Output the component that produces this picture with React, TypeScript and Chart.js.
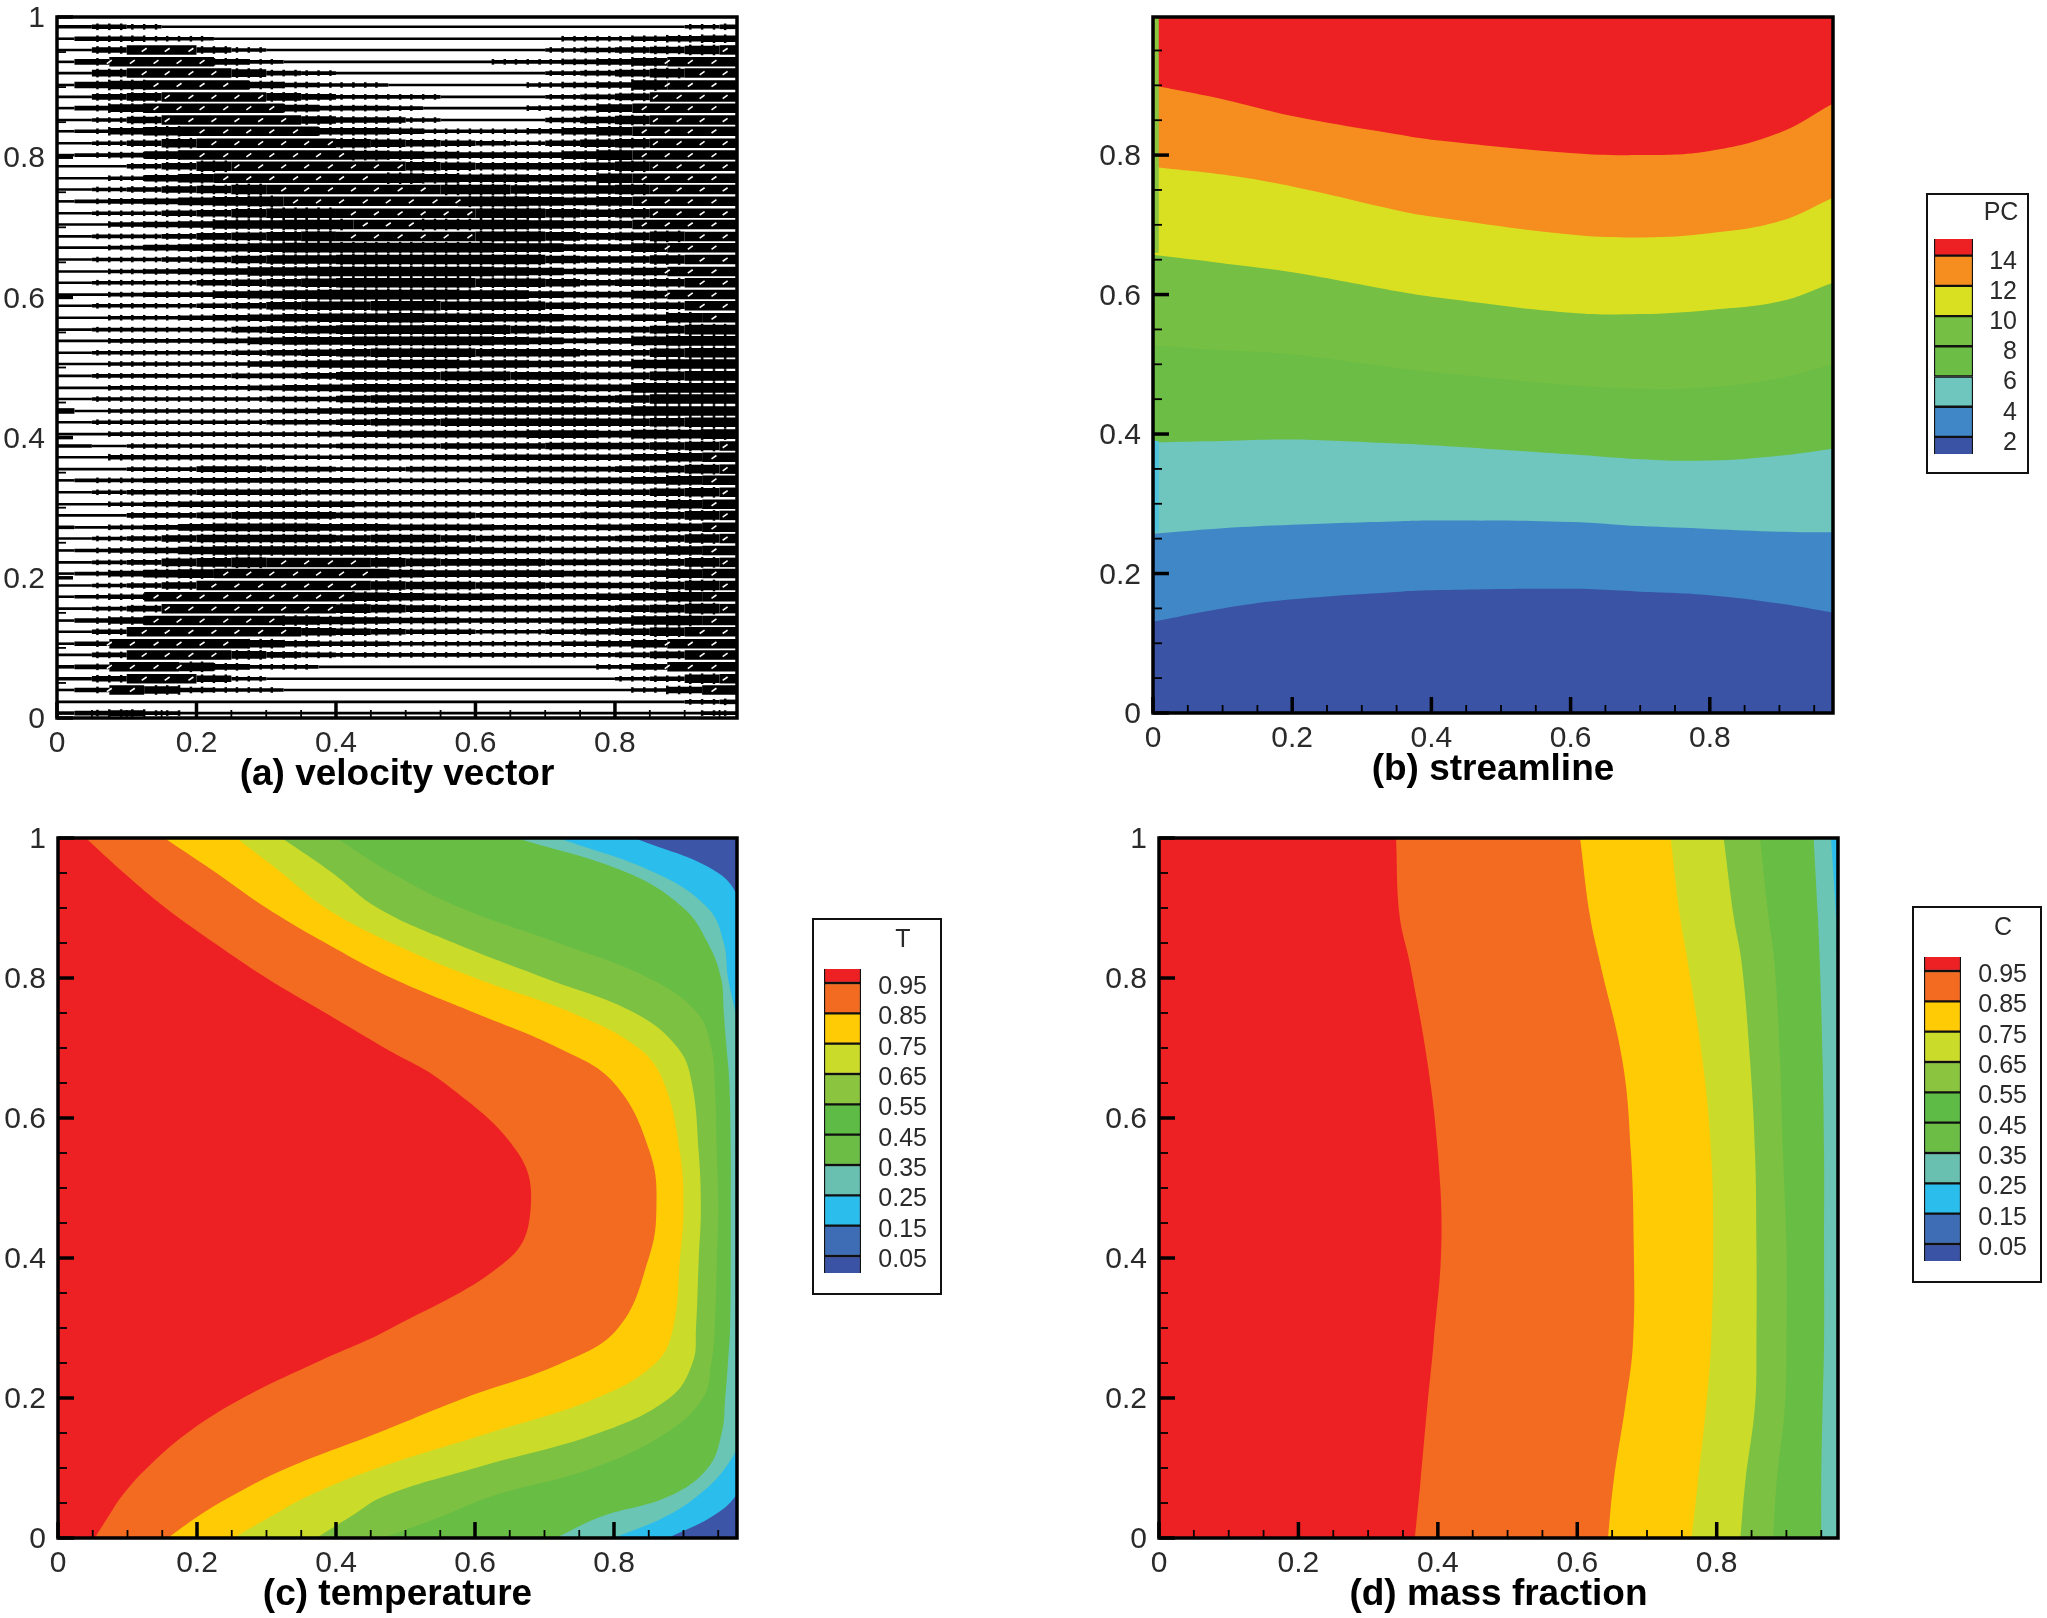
import React, { useEffect, useRef } from "react";
import { Chart, registerables } from "chart.js";

Chart.register(...registerables);

const FONT = "'Liberation Sans', Arial, sans-serif";
const TICK_COLOR = "#2a2a2a";

// ---- axis ticks
const axisTicks = [0, 0.05, 0.1, 0.15, 0.2, 0.25, 0.3, 0.35, 0.4, 0.45, 0.5, 0.55, 0.6, 0.65, 0.7, 0.75, 0.8, 0.85, 0.9, 0.95];
const axisTicksY = [...axisTicks, 1];
const labelledX = [0, 0.2, 0.4, 0.6, 0.8];
const labelledY = [0, 0.2, 0.4, 0.6, 0.8, 1];

// ---- panel (a): velocity vector rows. One string per row, one glyph per x cell:
// digit = stroke weight, "a" = heaviest weight with broken-up vector texture
const rowLevels = [0.986, 0.969, 0.953, 0.936, 0.92, 0.903, 0.886, 0.87, 0.853, 0.837, 0.82, 0.803, 0.787, 0.77, 0.754, 0.737, 0.72, 0.704, 0.687, 0.671, 0.654, 0.637, 0.621, 0.604, 0.588, 0.571, 0.554, 0.538, 0.521, 0.505, 0.488, 0.471, 0.455, 0.438, 0.422, 0.405, 0.388, 0.372, 0.355, 0.339, 0.322, 0.305, 0.289, 0.272, 0.256, 0.239, 0.222, 0.206, 0.189, 0.173, 0.156, 0.139, 0.123, 0.106, 0.09, 0.073, 0.056, 0.04, 0.023, 0.007];
const cellEdgesEven = [0, 0.05, 0.1, 0.15, 0.2, 0.25, 0.3, 0.35, 0.4, 0.45, 0.5, 0.55, 0.6, 0.65, 0.7, 0.75, 0.8, 0.85, 0.9, 0.95, 0.975];
const cellEdgesOdd = [0, 0.025, 0.075, 0.125, 0.175, 0.225, 0.275, 0.325, 0.375, 0.425, 0.475, 0.525, 0.575, 0.625, 0.675, 0.725, 0.775, 0.825, 0.875, 0.925, 0.975];
const arrowColumns = [0.025, 0.042, 0.058, 0.075, 0.092, 0.108, 0.125, 0.142, 0.158, 0.175, 0.192, 0.208, 0.225, 0.242, 0.258, 0.275, 0.292, 0.308, 0.325, 0.342, 0.358, 0.375, 0.392, 0.408, 0.425, 0.442, 0.458, 0.475, 0.492, 0.508, 0.525, 0.542, 0.558, 0.575, 0.592, 0.608, 0.625, 0.642, 0.658, 0.675, 0.692, 0.708, 0.725, 0.742, 0.758, 0.775, 0.792, 0.808, 0.825, 0.842, 0.858, 0.875, 0.892, 0.908, 0.925, 0.942, 0.958];
const rowWeights = [
  "34322222222222222234",
  "24433222222222233456",
  "25aa532222222234568a",
  "25aaa5322222233457aa",
  "26aaa7432222223468aa",
  "268aaa643322223459aa",
  "257aaa75333222346aaa",
  "247aaaa6443222347aaa",
  "236aaaa7553222468aaa",
  "2368aaaa665333468aaa",
  "2358aaaa876543578aaa",
  "2347aaaaa87655579aaa",
  "22469aaaaa8766679aaa",
  "22368aaaaa9877669aaa",
  "234679aaaaa998889aaa",
  "2345789aaaaa99878aaa",
  "23356899aaaa99878aaa",
  "224568899aa999877aaa",
  "23346789aaaa998679aa",
  "223567899999988668aa",
  "233457889999997668aa",
  "223456889999987567aa",
  "233356789999887567aa",
  "223446789999886557aa",
  "233345788998886556aa",
  "2233456788988775569a",
  "23333567888887655799",
  "22333467788887645899",
  "23333456788877755899",
  "22333356778877655899",
  "23333445777887766899",
  "22333345677777766999",
  "23333344677777767999",
  "52333334567777777999",
  "23333344566777777899",
  "22333333456666776889",
  "3233333344455566678a",
  "2244444334444555568a",
  "2233554433444444568a",
  "2334444443333455568a",
  "2344555444444445578a",
  "2234555554444444568a",
  "2244566655554445568a",
  "3234677766555444567a",
  "2346777767765544568a",
  "2345788888776555668a",
  "234789aaa8766655568a",
  "23578aaaaa766665568a",
  "2346aaaaa8776655579a",
  "234aaaaaa8766555679a",
  "235aaaaa87655555679a",
  "246aaaa876554445689a",
  "24aaaaa76544334568aa",
  "24aaaa754433333457aa",
  "24aaa7543333333346aa",
  "34aa85332222222235aa",
  "35aa632222222222348a",
  "24a7433222222222236a",
  "22222222222222222234",
  "34532222222222222223",
];

// ---- panel (b): contours as y at each x
const streamX = [0, 0.1, 0.2, 0.355, 0.4, 0.6, 0.7, 0.8, 0.9, 0.977];
const streamBlueTop = [0.131, 0.15, 0.163, 0.174, 0.176, 0.178, 0.174, 0.169, 0.157, 0.144];
const streamBlueLight = [0.257, 0.265, 0.27, 0.275, 0.276, 0.274, 0.268, 0.264, 0.26, 0.259];
const streamTeal = [0.388, 0.39, 0.392, 0.386, 0.384, 0.371, 0.364, 0.362, 0.369, 0.379];
const streamGreenA = [0.527, 0.52, 0.514, 0.494, 0.489, 0.47, 0.465, 0.467, 0.48, 0.5];
const streamGreenB = [0.657, 0.645, 0.632, 0.604, 0.597, 0.574, 0.572, 0.578, 0.59, 0.617];
const streamYellow = [0.783, 0.772, 0.755, 0.72, 0.712, 0.686, 0.682, 0.688, 0.705, 0.739];
const streamOrange = [0.9, 0.88, 0.856, 0.829, 0.822, 0.803, 0.8, 0.806, 0.832, 0.874];
const streamColors = ["#3A53A4", "#3F87C6", "#6EC6BE", "#6CBD45", "#74BF44", "#D9E021", "#F68E1F", "#ED2024"];
const stripX = [0.004, 0.004];
const stripUpperY = [0.66, 0.998];
const stripLowerY = [0.26, 0.39];
const stripUpperColor = "#8CC63F";
const stripLowerColor = "#4FC3DD";

// ---- panel (c): contours as x at each y
const tempY = [0, 0.03, 0.06, 0.1, 0.15, 0.2, 0.25, 0.3, 0.4, 0.47, 0.55, 0.65, 0.7, 0.75, 0.8, 0.85, 0.9, 0.95, 1];
const tempRed = [0.053, 0.072, 0.092, 0.128, 0.186, 0.266, 0.37, 0.48, 0.65, 0.68, 0.662, 0.556, 0.47, 0.385, 0.3, 0.225, 0.155, 0.095, 0.04];
const tempOrange = [0.158, 0.2, 0.25, 0.33, 0.46, 0.585, 0.725, 0.806, 0.85, 0.861, 0.852, 0.8, 0.72, 0.6, 0.48, 0.385, 0.3, 0.228, 0.153];
const tempYellow = [0.252, 0.305, 0.36, 0.46, 0.62, 0.775, 0.86, 0.885, 0.895, 0.9, 0.895, 0.872, 0.835, 0.74, 0.6, 0.48, 0.385, 0.322, 0.257];
const tempLime = [0.372, 0.42, 0.47, 0.6, 0.778, 0.88, 0.913, 0.918, 0.922, 0.925, 0.922, 0.912, 0.892, 0.83, 0.7, 0.57, 0.46, 0.395, 0.322];
const tempGreenA = [0.468, 0.55, 0.625, 0.77, 0.875, 0.928, 0.94, 0.945, 0.948, 0.95, 0.948, 0.945, 0.94, 0.92, 0.85, 0.72, 0.58, 0.48, 0.4];
const tempGreenB = [0.716, 0.78, 0.88, 0.935, 0.955, 0.96, 0.964, 0.967, 0.968, 0.968, 0.968, 0.966, 0.962, 0.958, 0.954, 0.935, 0.9, 0.82, 0.66];
const tempTeal = [0.8, 0.873, 0.92, 0.96, 0.985, 0.99, 0.99, 0.99, 0.99, 0.99, 0.99, 0.99, 0.985, 0.975, 0.964, 0.958, 0.935, 0.86, 0.72];
const tempCyan = [0.878, 0.94, 0.975, 0.99, 0.99, 0.99, 0.99, 0.99, 0.99, 0.99, 0.99, 0.99, 0.99, 0.99, 0.99, 0.99, 0.985, 0.95, 0.83];
const tempColors = ["#ED2024", "#F36A21", "#FFCB05", "#CBDB2A", "#7CC142", "#68BD45", "#6AC5B5", "#2BBDEC", "#3D55A6"];

// ---- panel (d): contours as x at each y
const massY = [0, 0.08, 0.19, 0.28, 0.42, 0.55, 0.68, 0.82, 0.89, 1];
const massRed = [0.367, 0.375, 0.385, 0.394, 0.405, 0.4, 0.385, 0.36, 0.345, 0.34];
const massOrange = [0.644, 0.652, 0.669, 0.68, 0.681, 0.677, 0.665, 0.633, 0.618, 0.604];
const massYellow = [0.764, 0.773, 0.785, 0.792, 0.795, 0.792, 0.78, 0.759, 0.747, 0.734];
const massLime = [0.834, 0.841, 0.855, 0.857, 0.857, 0.855, 0.848, 0.836, 0.824, 0.81];
const massGreenA = [0.881, 0.886, 0.898, 0.9, 0.9, 0.895, 0.891, 0.883, 0.874, 0.862];
const massGreenB = [0.95, 0.95, 0.952, 0.954, 0.954, 0.954, 0.952, 0.948, 0.945, 0.939];
const massTeal = [0.99, 0.99, 0.99, 0.99, 0.99, 0.99, 0.98, 0.973, 0.971, 0.964];
const massColors = ["#ED2024", "#F36A21", "#FFCB05", "#CBDB2A", "#7CC142", "#68BD45", "#6AC5B5", "#2BBDEC"];

// ---- legends
const pcEdges = [0, 2, 4, 6, 8, 10, 12, 14, 16];
const pcLabels = [2, 4, 6, 8, 10, 12, 14];
const pcPalette = ["#3A53A4", "#3F87C6", "#6EC6BE", "#6CBD45", "#74BF44", "#D9E021", "#F68E1F", "#ED2024"];
const tEdges = [-0.05, 0.05, 0.15, 0.25, 0.35, 0.45, 0.55, 0.65, 0.75, 0.85, 0.95, 1.05];
const tLabels = ["0.05", "0.15", "0.25", "0.35", "0.45", "0.55", "0.65", "0.75", "0.85", "0.95"];
const legendPalette = ["#3A53A4", "#3F6DB5", "#2BBDEC", "#69BFB0", "#6CBD45", "#5EBB46", "#8BC53F", "#CBDB2A", "#FFCB05", "#F36A21", "#ED2024"];

const frameAndTicks = {
  id: "frameAndTicks",
  afterDatasetsDraw(chart: any) {
    const { ctx, chartArea: a, scales } = chart;
    const o = chart.options.plugins.frameAndTicks;
    ctx.save();
    ctx.strokeStyle = "#000";
    const mark = (x1: number, y1: number, x2: number, y2: number, w: number) => {
      ctx.lineWidth = w;
      ctx.beginPath();
      ctx.moveTo(x1, y1);
      ctx.lineTo(x2, y2);
      ctx.stroke();
    };
    for (const v of axisTicks) {
      const p = scales.x.getPixelForValue(v);
      const major = labelledX.includes(v);
      mark(p, a.bottom, p, a.bottom - (major ? 16 : 8), major ? 3.5 : 1.8);
    }
    for (const v of axisTicksY) {
      if (v > o.yMax) continue;
      const p = scales.y.getPixelForValue(v);
      const major = labelledY.includes(v);
      mark(a.left, p, a.left + (major ? 16 : 9), p, major ? 3.5 : 1.8);
    }
    ctx.lineWidth = 3.5;
    ctx.strokeRect(a.left, a.top, a.right - a.left, a.bottom - a.top);
    ctx.restore();
  },
};

const legendBox = {
  id: "legendBox",
  afterDraw(chart: any) {
    const { ctx, width, height } = chart;
    const o = chart.options.plugins.legendBox;
    ctx.save();
    ctx.strokeStyle = "#111";
    ctx.lineWidth = 2;
    ctx.strokeRect(1, 1, width - 2, height - 2);
    ctx.fillStyle = TICK_COLOR;
    ctx.font = `25px ${FONT}`;
    ctx.textAlign = "center";
    ctx.textBaseline = "middle";
    ctx.fillText(o.title, o.titleX, o.titleY);
    ctx.restore();
  },
};

function scaleOptions(axis: "x" | "y", max: number, values: number[], labelled: number[], size: number, title?: string): any {
  return {
    type: "linear",
    min: 0,
    max,
    afterBuildTicks: (s: any) => {
      s.ticks = values.filter((v) => v <= max).map((value) => ({ value }));
    },
    afterFit: (s: any) => {
      if (axis === "x") s.height = size;
      else s.width = size;
    },
    grid: { drawOnChartArea: false, drawTicks: false },
    border: { display: false },
    ticks: {
      autoSkip: false,
      maxRotation: 0,
      padding: axis === "x" ? 8 : 12,
      labelOffset: axis === "y" ? 2 : 0,
      color: TICK_COLOR,
      font: { family: FONT, size: 30 },
      callback: (v: number) => (labelled.includes(v) ? String(v) : ""),
    },
    title: title
      ? { display: true, text: title, color: "#000", font: { family: FONT, size: 37, weight: "bold", lineHeight: 1.2 }, padding: { top: 0, bottom: 2 } }
      : { display: false },
  };
}

function panelOptions(p: any, indexAxis: "x" | "y"): any {
  return {
    responsive: false,
    animation: false,
    indexAxis,
    layout: { autoPadding: false, padding: { top: p.padTop, right: 12, left: 0, bottom: 0 } },
    elements: { point: { radius: 0 } },
    plugins: {
      legend: { display: false },
      tooltip: { enabled: false },
      frameAndTicks: { yMax: p.yMax },
    },
    scales: {
      x: scaleOptions("x", p.xMax, axisTicks, labelledX, 81, p.title),
      y: scaleOptions("y", p.yMax, axisTicksY, labelledY, p.axisW),
    },
  };
}

function weightAt(row: number, cell: number): number {
  const c = rowWeights[row].charAt(cell) || "2";
  return c === "a" ? 9.5 : Number(c) + 0.6;
}

function velocityDatasets(): any[] {
  const rows = rowLevels.map((y, r) => ({
    type: "line",
    data: (r % 2 ? cellEdgesOdd : cellEdgesEven).map((x) => ({ x, y })),
    borderColor: "#000",
    borderWidth: 2,
    pointRadius: 0,
    segment: { borderWidth: (ctx: any) => weightAt(r, ctx.p0DataIndex) },
  }));
  const heads: any[] = [];
  const headSizes: number[] = [];
  const specks: any[] = [];
  rowLevels.forEach((y, r) => {
    arrowColumns.forEach((x, i) => {
      const shift = r % 2 ? 0.025 : 0;
      const cell = Math.min(Math.floor((x + shift) / 0.05), 19);
      const glyph = rowWeights[r].charAt(cell) || "2";
      const w = weightAt(r, cell);
      if (glyph === "a") {
        if ((i + r) % 2 === 0) specks.push({ x, y });
      } else if (w >= 3.6 && x > 0.05) {
        heads.push({ x, y });
        headSizes.push(w / 2 + 1);
      }
    });
  });
  const headSet = {
    type: "line",
    showLine: false,
    data: heads,
    pointStyle: "line",
    pointRotation: 90,
    pointRadius: headSizes,
    pointBorderWidth: 2.5,
    pointBorderColor: "#000",
  };
  const speckSet = {
    type: "line",
    showLine: false,
    data: specks,
    pointStyle: "line",
    pointRotation: -35,
    pointRadius: 3,
    pointBorderWidth: 1.6,
    pointBorderColor: "#fff",
  };
  // first dataset is painted last
  return [speckSet, headSet, ...rows];
}

function layerY(xs: number[], ys: number[], color: string): any {
  return {
    type: "line",
    data: xs.map((x, i) => ({ x, y: ys[i] })),
    backgroundColor: color,
    borderWidth: 0,
    borderColor: color,
    pointRadius: 0,
    tension: 0.4,
    fill: { value: 1.3 },
  };
}

function strip(xs: number[], ys: number[], color: string): any {
  return {
    type: "line",
    data: xs.map((x, i) => ({ x, y: ys[i] })),
    borderColor: color,
    borderWidth: 6,
    pointRadius: 0,
    fill: false,
  };
}

function streamDatasets(): any[] {
  const curves = [streamBlueTop, streamBlueLight, streamTeal, streamGreenA, streamGreenB, streamYellow, streamOrange];
  const layers = [streamX.map(() => -0.2), ...curves].map((ys, i) => layerY(streamX, ys, streamColors[i]));
  return [strip(stripX, stripUpperY, stripUpperColor), strip(stripX, stripLowerY, stripLowerColor), ...layers.reverse()];
}

function contourDatasets(curves: number[][], levels: number[], colors: string[]): any[] {
  const layers = [levels.map(() => -0.2), ...curves].map((xs, i) => layerY(xs, levels, colors[i]));
  return layers.reverse();
}

function makeLegend(canvas: HTMLCanvasElement, g: any): Chart {
  const bands = g.edges.slice(0, -1).map((lo: number, i: number) => ({
    data: [[lo, g.edges[i + 1]]],
    backgroundColor: g.colors[i],
    borderColor: "#111",
    borderWidth: 1.5,
    borderSkipped: false,
    barPercentage: 1,
    categoryPercentage: 1,
    grouped: false,
  }));
  return new Chart(canvas, {
    type: "bar",
    data: { labels: [""], datasets: bands },
    plugins: [legendBox],
    options: {
      responsive: false,
      animation: false,
      layout: { autoPadding: false, padding: g.pad },
      plugins: {
        legend: { display: false },
        tooltip: { enabled: false },
        legendBox: { title: g.title, titleX: g.titleX, titleY: g.titleY },
      },
      scales: {
        x: { display: false },
        y: {
          position: "right",
          min: g.min,
          max: g.max,
          afterBuildTicks: (s: any) => {
            s.ticks = g.ticks.map((l: any) => ({ value: Number(l), label: String(l) }));
          },
          afterFit: (s: any) => {
            s.width = g.axisW;
          },
          grid: { display: false, drawTicks: false },
          border: { display: false },
          ticks: {
            autoSkip: false,
            crossAlign: "far",
            padding: 0,
            labelOffset: g.labelOffset,
            color: TICK_COLOR,
            font: { family: FONT, size: 25 },
            callback: (v: number) => g.ticks.find((l: any) => Number(l) === v),
          },
        },
      },
    } as any,
  } as any);
}

const panelA = { left: 0, top: -13, w: 749, h: 812, axisW: 57, padTop: 30, xMax: 0.975, yMax: 1, title: "(a) velocity vector" };
const panelB = { left: 1100, top: -13, w: 745, h: 807, axisW: 53, padTop: 30, xMax: 0.977, yMax: 0.998, title: "(b) streamline" };
const panelC = { left: 0, top: 808, w: 749, h: 811, axisW: 58, padTop: 30, xMax: 0.977, yMax: 1, title: "(c) temperature" };
const panelD = { left: 1100, top: 808, w: 750, h: 811, axisW: 59, padTop: 30, xMax: 0.974, yMax: 1, title: "(d) mass fraction" };

const legendPC = { left: 1926, top: 193, w: 103, h: 281 };
const legendT = { left: 812, top: 918, w: 130, h: 377 };
const legendC = { left: 1912, top: 906, w: 130, h: 377 };

export default function App() {
  const a = useRef<HTMLCanvasElement>(null);
  const b = useRef<HTMLCanvasElement>(null);
  const c = useRef<HTMLCanvasElement>(null);
  const d = useRef<HTMLCanvasElement>(null);
  const lp = useRef<HTMLCanvasElement>(null);
  const lt = useRef<HTMLCanvasElement>(null);
  const lc = useRef<HTMLCanvasElement>(null);

  useEffect(() => {
    const line = (canvas: any, p: any, datasets: any[], indexAxis: "x" | "y") =>
      new Chart(canvas, {
        type: "line",
        data: { datasets },
        plugins: [frameAndTicks],
        options: panelOptions(p, indexAxis),
      } as any);
    const tempCurves = [tempRed, tempOrange, tempYellow, tempLime, tempGreenA, tempGreenB, tempTeal, tempCyan];
    const massCurves = [massRed, massOrange, massYellow, massLime, massGreenA, massGreenB, massTeal];
    const tLegend = { edges: tEdges, colors: legendPalette, ticks: tLabels, min: -0.006, max: 0.996, axisW: 66, labelOffset: 4, title: "T", titleX: 91, titleY: 22, pad: { left: 12, top: 51, bottom: 22, right: 15 } };
    const charts = [
      line(a.current, panelA, velocityDatasets(), "x"),
      line(b.current, panelB, streamDatasets(), "x"),
      line(c.current, panelC, contourDatasets(tempCurves, tempY, tempColors), "y"),
      line(d.current, panelD, contourDatasets(massCurves, massY, massColors), "y"),
      makeLegend(lp.current!, {
        edges: pcEdges,
        colors: pcPalette,
        ticks: pcLabels,
        min: 0.87,
        max: 15.1,
        axisW: 44,
        labelOffset: 6,
        title: "PC",
        titleX: 75,
        titleY: 20,
        pad: { left: 8, top: 46, bottom: 20, right: 12 },
      }),
      makeLegend(lt.current!, tLegend),
      makeLegend(lc.current!, { ...tLegend, title: "C" }),
    ];
    return () => charts.forEach((x) => x.destroy());
  }, []);

  const place = (p: any): React.CSSProperties => ({ position: "absolute", left: p.left, top: p.top, width: p.w, height: p.h, display: "block" });

  return (
    <div style={{ position: "absolute", left: 0, top: 0, width: 2047, height: 1618, overflow: "hidden", background: "#fff" }}>
      <canvas ref={a} width={panelA.w} height={panelA.h} style={place(panelA)} />
      <canvas ref={b} width={panelB.w} height={panelB.h} style={place(panelB)} />
      <canvas ref={c} width={panelC.w} height={panelC.h} style={place(panelC)} />
      <canvas ref={d} width={panelD.w} height={panelD.h} style={place(panelD)} />
      <canvas ref={lp} width={legendPC.w} height={legendPC.h} style={place(legendPC)} />
      <canvas ref={lt} width={legendT.w} height={legendT.h} style={place(legendT)} />
      <canvas ref={lc} width={legendC.w} height={legendC.h} style={place(legendC)} />
    </div>
  );
}
